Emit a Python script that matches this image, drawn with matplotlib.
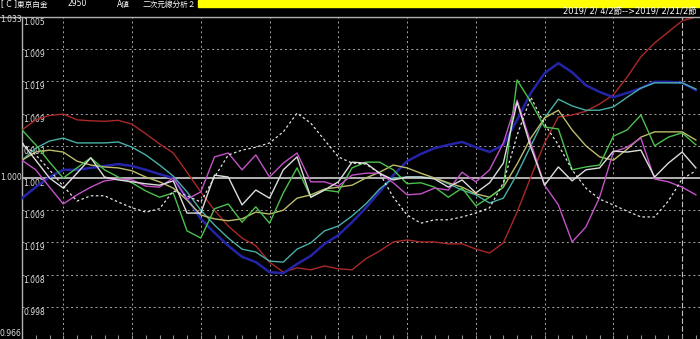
import matplotlib.pyplot as plt
import numpy as np
from matplotlib.lines import Line2D
from matplotlib.patches import Rectangle

plt.rcParams['font.family'] = ['DejaVu Sans', 'Noto Sans CJK JP']

W, H = 700, 339

# series values (ratio to base), one point per half-session, 50 points
red = [1.0100, 1.0121, 1.0130, 1.0133, 1.0121, 1.0119, 1.0118, 1.0120, 1.0112, 1.0092,
       1.0071, 1.0052, 1.0012, 0.9971, 0.9933, 0.9900, 0.9875, 0.9859, 0.9825, 0.9804,
       0.9813, 0.9809, 0.9817, 0.9811, 0.9809, 0.9832, 0.9848, 0.9867, 0.9871, 0.9867,
       0.9867, 0.9863, 0.9863, 0.9852, 0.9844, 0.9865, 0.9929, 1.0002, 1.0073, 1.0127,
       1.0131, 1.0139, 1.0154, 1.0173, 1.0210, 1.0252, 1.0281, 1.0304, 1.0327, 1.0335]
blue = [0.9958, 0.9981, 1.0002, 1.0017, 1.0017, 1.0021, 1.0025, 1.0029, 1.0025, 1.0017,
        1.0008, 1.0000, 0.9958, 0.9915, 0.9886, 0.9859, 0.9836, 0.9825, 0.9804, 0.9802,
        0.9821, 0.9838, 0.9863, 0.9881, 0.9908, 0.9938, 0.9971, 1.0006, 1.0035, 1.0050,
        1.0062, 1.0069, 1.0075, 1.0064, 1.0054, 1.0069, 1.0121, 1.0177, 1.0218, 1.0239,
        1.0220, 1.0193, 1.0179, 1.0168, 1.0177, 1.0187, 1.0200, 1.0200, 1.0198, 1.0183]
teal = [1.0037, 1.0062, 1.0077, 1.0083, 1.0073, 1.0073, 1.0073, 1.0075, 1.0064, 1.0048,
        1.0027, 1.0004, 0.9971, 0.9933, 0.9902, 0.9875, 0.9852, 0.9846, 0.9827, 0.9825,
        0.9852, 0.9865, 0.9890, 0.9900, 0.9921, 0.9946, 0.9977, 1.0000, 1.0002, 1.0002,
        1.0000, 0.9988, 0.9975, 0.9965, 0.9948, 0.9958, 1.0008, 1.0067, 1.0125, 1.0164,
        1.0150, 1.0141, 1.0141, 1.0148, 1.0168, 1.0187, 1.0198, 1.0198, 1.0198, 1.0185]
olive = [1.0037, 1.0054, 1.0058, 1.0054, 1.0035, 1.0027, 1.0023, 1.0021, 1.0015, 1.0002,
         0.9992, 0.9979, 0.9954, 0.9923, 0.9915, 0.9911, 0.9915, 0.9929, 0.9925, 0.9933,
         0.9958, 0.9965, 0.9977, 0.9981, 0.9985, 1.0000, 1.0012, 1.0027, 1.0021, 1.0010,
         1.0000, 0.9990, 0.9981, 0.9967, 0.9960, 0.9981, 1.0029, 1.0083, 1.0125, 1.0141,
         1.0100, 1.0067, 1.0044, 1.0037, 1.0060, 1.0085, 1.0096, 1.0096, 1.0096, 1.0079]
green = [1.0100, 1.0069, 1.0033, 1.0000, 1.0021, 1.0042, 1.0017, 1.0002, 0.9990, 0.9973,
         0.9960, 0.9969, 0.9890, 0.9875, 0.9936, 0.9946, 0.9908, 0.9940, 0.9906, 0.9969,
         1.0021, 0.9960, 0.9975, 0.9971, 1.0021, 1.0033, 1.0033, 1.0017, 0.9988, 0.9990,
         0.9981, 0.9960, 0.9979, 0.9942, 0.9960, 0.9981, 1.0204, 1.0158, 1.0106, 1.0102,
         1.0017, 1.0023, 1.0027, 1.0087, 1.0100, 1.0131, 1.0067, 1.0085, 1.0094, 1.0069]
magenta = [1.0037, 1.0017, 0.9981, 0.9946, 0.9965, 0.9981, 0.9994, 0.9998, 0.9996, 0.9983,
           0.9981, 1.0000, 0.9956, 0.9971, 1.0044, 1.0052, 1.0017, 1.0048, 1.0002, 1.0031,
           1.0052, 0.9992, 0.9992, 0.9983, 1.0006, 1.0010, 1.0010, 0.9990, 0.9965, 0.9967,
           0.9979, 0.9975, 1.0012, 0.9992, 1.0017, 1.0073, 1.0162, 1.0073, 0.9985, 0.9944,
           0.9867, 0.9898, 0.9960, 1.0054, 1.0064, 1.0083, 0.9998, 0.9992, 0.9981, 0.9965]
white = [1.0073, 1.0037, 1.0000, 0.9979, 1.0010, 1.0042, 1.0002, 0.9996, 0.9992, 0.9988,
         0.9985, 0.9994, 0.9927, 0.9927, 1.0006, 1.0002, 0.9944, 0.9975, 0.9958, 1.0017,
         1.0044, 0.9960, 0.9975, 0.9992, 1.0033, 1.0031, 1.0010, 0.9996, 1.0002, 1.0002,
         0.9998, 0.9981, 0.9996, 0.9969, 0.9990, 1.0031, 1.0158, 1.0064, 0.9985, 1.0023,
         0.9994, 1.0017, 1.0021, 1.0056, 1.0054, 1.0058, 1.0002, 1.0031, 1.0054, 1.0021]
dotted = [1.0073, 1.0048, 1.0017, 0.9983, 0.9952, 0.9963, 0.9963, 0.9950, 0.9938, 0.9929,
          0.9936, 0.9973, 0.9963, 0.9950, 1.0002, 1.0048, 1.0058, 1.0064, 1.0073, 1.0096,
          1.0135, 1.0114, 1.0079, 1.0044, 1.0031, 1.0029, 1.0010, 0.9960, 0.9923, 0.9906,
          0.9913, 0.9913, 0.9919, 0.9927, 0.9938, 0.9990, 1.0089, 1.0168, 1.0112, 1.0069,
          1.0017, 0.9979, 0.9956, 0.9944, 0.9931, 0.9919, 0.9919, 0.9952, 0.9998, 1.0015]

grid_values = [1.0268, 1.0201, 1.0134, 1.0067, 1.0000, 0.9933, 0.9866, 0.9799, 0.9732]
grid_labels = ["1.009", "1.019", "1.009", "0.993", "1.002", "1.009", "1.019", "1.008", "0.998"]
title_parts = ["[ C ]東京白金", "2950", "A値", "二次元線分析２"]
date_range = "2019/ 2/ 4/2節-->2019/ 2/21/2節"


def fx(px):
    return px / W


def fy(py):
    return 1 - py / H


fig = plt.figure(figsize=(W / 100, H / 100), dpi=100, facecolor='black')
ax = fig.add_axes([fx(22), 0, fx(678), 322 / H], facecolor='black')

x = np.arange(len(red))
ax.set_xlim(0, 49.3)
ax.set_ylim(0.9665, 1.0335)

grid_c = '#a8a8a8'
for g in grid_values:
    if g == 1.0:
        ax.axhline(g, color='#d0d0d0', lw=1.2, zorder=1)
    else:
        ax.axhline(g, color=grid_c, lw=0.7, ls=(0, (2, 3)), zorder=1)
for i in range(3, 48, 5):
    ax.axvline(i, color=grid_c, lw=0.7, ls=(0, (2, 3)), zorder=1)
ax.axvline(48, color='#c0c0c0', lw=0.8, ls=(0, (5, 2)), zorder=1)

ax.plot(x, red, color='#aa2828', lw=1.0, zorder=3)
ax.plot(x, blue, color='#2424a8', lw=1.8, zorder=3)
ax.plot(x, teal, color='#48b0a8', lw=1.0, zorder=3)
ax.plot(x, olive, color='#bcbc6c', lw=1.0, zorder=3)
ax.plot(x, green, color='#4cc04c', lw=1.0, zorder=3)
ax.plot(x, magenta, color='#c452c8', lw=1.0, zorder=3)
ax.plot(x, white, color='#dcdcdc', lw=1.0, zorder=3)
ax.plot(x, dotted, color='#e4e4e4', lw=0.9, ls=(0, (2, 2)), zorder=3)

for g, lab in zip(grid_values, grid_labels):
    ax.text(0.12, g - 0.0002, lab, color='#e0e0e0', fontsize=5.5, va='top', ha='left', zorder=2)
ax.text(0.12, 1.0333, "1.005", color='#e0e0e0', fontsize=5.5, va='top', ha='left', zorder=2)

ax.set_xticks(x)
ax.tick_params(axis='x', direction='in', length=3, color='#909090', labelbottom=False)
ax.set_yticks([])
for side in ['top', 'right', 'bottom']:
    ax.spines[side].set_visible(False)
ax.spines['left'].set_color('#b0b0b0')
ax.spines['left'].set_linewidth(1.0)

# header
fig.add_artist(Rectangle((fx(198), fy(7)), fx(502), 7 / H, color='#ffff00',
                         transform=fig.transFigure))
fig.add_artist(Line2D([0, 1], [fy(16.5), fy(16.5)], color='#b0b0b0', lw=1.0,
                      transform=fig.transFigure))
for px, part in zip([1, 67, 117, 143], title_parts):
    fig.text(fx(px), fy(4), part, color='white', fontsize=5.5, va='center', ha='left')
fig.text(fx(697), fy(11.5), date_range, color='white', fontsize=6, va='center', ha='right')

fig.text(fx(0), fy(20), "1.033", color='#e0e0e0', fontsize=5.5, va='center', ha='left')
fig.text(fx(0), fy(178), "1.000", color='#e0e0e0', fontsize=5.5, va='center', ha='left')
fig.text(fx(0), fy(334), "0.966", color='#e0e0e0', fontsize=5.5, va='center', ha='left')

fig.savefig('out.png', dpi=100, facecolor='black')
